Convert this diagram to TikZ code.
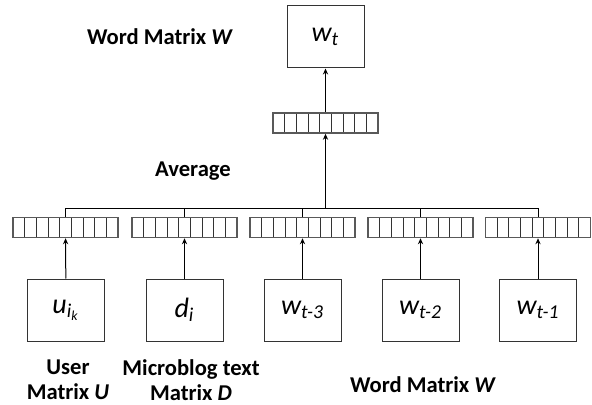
\documentclass[tikz,border=0pt]{standalone}
\usepackage{fontspec}
\setmainfont{Carlito}
\setsansfont{Carlito}
\usepackage{tikz}
\usetikzlibrary{arrows.meta, positioning, calc}
\tikzstyle{box}   = [draw=black!80, line width=0.5pt, minimum width=38.5pt,
                     minimum height=31pt, inner sep=0pt, font=\fontsize{14}{16}\selectfont\itshape]
\tikzstyle{vec}   = [draw=black!65, line width=0.75pt, minimum width=52.5pt,
                     minimum height=10pt, inner sep=0pt,
                     path picture={\foreach \k in {1,...,8}
                       \draw[black!80, line width=0.5pt]
                         ([xshift=\k*52.5pt/9]path picture bounding box.south west) -- ++(0,10pt);}]
\tikzstyle{lbl}   = [font=\fontsize{11.3}{12.5}\selectfont\bfseries, align=center, inner sep=0pt]
\tikzstyle{arrow} = [line width=0.5pt, -{Stealth[length=3pt, width=2.6pt]}]

\begin{document}
\begin{tikzpicture}[x=0.5pt, y=-0.5pt]
  \useasboundingbox (0,0) rectangle (592,405);

  % --- Output word ---
  \node[box] (wt) at (325.5, 37) {w\textsubscript{t}};
  \node[vec] (vt) at (325.5,123) {};
  \node[lbl] (lw1) at (160, 37) {Word Matrix \textit{W}};
  \node[lbl] (lavg) at (193,171) {Average};

  % --- Input vectors ---
  \node[vec] (v1) at ( 65.5,227.5) {};
  \node[vec] (v2) at (184.5,227.5) {};
  \node[vec] (v3) at (302.5,227.5) {};
  \node[vec] (v4) at (420.5,227.5) {};
  \node[vec] (v5) at (538  ,227.5) {};

  % --- Input boxes ---
  \node[box] (b1) at ( 66  ,310) {u\textsubscript{i\textsubscript{k}}};
  \node[box] (b2) at (184.5,310) {d\textsubscript{i}};
  \node[box] (b3) at (302.5,310) {w\textsubscript{t-3}};
  \node[box] (b4) at (420.5,310) {w\textsubscript{t-2}};
  \node[box] (b5) at (538  ,310) {w\textsubscript{t-1}};

  % Labels
  \node[lbl] (lu) at ( 68,380) {User\\Matrix \textit{U}};
  \node[lbl] (ld) at (191,380) {Microblog text\\Matrix \textit{D}};
  \node[lbl] (lw2) at (423,385) {Word Matrix \textit{W}};

  % Connections
  \coordinate (bus) at (325.5,209);
  \foreach \x in {1,...,5} \draw[arrow] (b\x) -- (v\x);
  \draw[line width=0.5pt] (v1.north) -- (v1.north |- bus) -- (v5.north |- bus) -- (v5.north);
  \foreach \x in {v2,v3,v4} \draw[line width=0.5pt] (\x.north) -- (\x.north |- bus);
  \draw[arrow] (bus) -- (vt);
  \draw[arrow] (vt) -- (wt);
\end{tikzpicture}
\end{document}
